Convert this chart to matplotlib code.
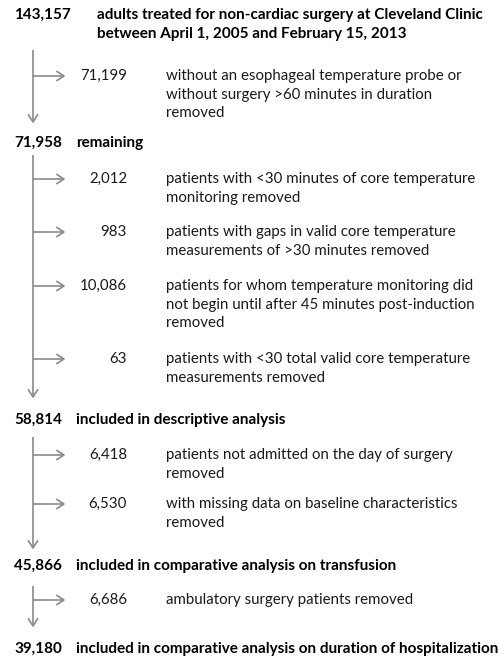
import matplotlib
matplotlib.use("Agg")
import matplotlib.pyplot as plt

# ---- data ----
main_counts = ["143,157", "71,958", "58,814", "45,866", "39,180"]
main_labels = [
    "adults treated for non-cardiac surgery at Cleveland Clinic\nbetween April 1, 2005 and February 15, 2013",
    "remaining",
    "included in descriptive analysis",
    "included in comparative analysis on transfusion",
    "included in comparative analysis on duration of hospitalization",
]
excl_counts = ["71,199", "2,012", "983", "10,086", "63", "6,418", "6,530", "6,686"]
excl_labels = [
    "without an esophageal temperature probe or\nwithout surgery >60 minutes in duration\nremoved",
    "patients with <30 minutes of core temperature\nmonitoring removed",
    "patients with gaps in valid core temperature\nmeasurements of >30 minutes removed",
    "patients for whom temperature monitoring did\nnot begin until after 45 minutes post-induction\nremoved",
    "patients with <30 total valid core temperature\nmeasurements removed",
    "patients not admitted on the day of surgery\nremoved",
    "with missing data on baseline characteristics\nremoved",
    "ambulatory surgery patients removed",
]

# ---- layout (pixels) ----
W, H = 500, 658
main_y = [15, 143, 420, 566, 649]
main_label_x = [97, 76, 76, 76, 76]
excl_y = [76, 179, 232, 286, 359, 455, 504, 600]
stage_span = [(50, 122), (155, 397), (437, 548), (586, 626)]
line_x = 33
arrow_tip_x = 64
num_right_x = 127
desc_x = 166
num_x = 14
lh = 18.6

FONT = ["Lato", "DejaVu Sans"]
fs = 10.8
fs_bold = 11.0
line_col = "#8a8a8a"
txt_col = "#1a1a1a"

fig = plt.figure(figsize=(W / 100, H / 100), dpi=100)
ax = fig.add_axes([0, 0, 1, 1])
ax.set_xlim(0, W)
ax.set_ylim(H, 0)
ax.axis("off")


def multiline(x, y, s, size, **kw):
    for i, line in enumerate(s.split("\n")):
        ax.text(x, y + i * lh, line, va="center", family=FONT, fontsize=size, **kw)


for c, lab, y, lx in zip(main_counts, main_labels, main_y, main_label_x):
    ax.text(num_x, y, c, va="center", ha="left", family=FONT, fontsize=fs_bold,
            fontweight="bold", color="black")
    multiline(lx, y, lab, fs_bold, ha="left", fontweight="bold", color="black")

for c, lab, y in zip(excl_counts, excl_labels, excl_y):
    ax.text(num_right_x, y, c, va="center", ha="right", family=FONT,
            fontsize=fs, color=txt_col)
    multiline(desc_x, y, lab, fs, ha="left", color=txt_col)
    # horizontal branch with open arrowhead
    ax.plot([line_x, arrow_tip_x], [y, y], color=line_col, lw=1.2,
            solid_capstyle="butt")
    ax.plot([arrow_tip_x - 7, arrow_tip_x, arrow_tip_x - 7], [y - 4.5, y, y + 4.5],
            color=line_col, lw=1.2)

for (y0, y1) in stage_span:
    ax.plot([line_x, line_x], [y0, y1], color=line_col, lw=1.2,
            solid_capstyle="butt")
    ax.plot([line_x - 4.5, line_x, line_x + 4.5], [y1 - 7, y1, y1 - 7],
            color=line_col, lw=1.2)

fig.savefig("out.png", dpi=100, facecolor="white")
